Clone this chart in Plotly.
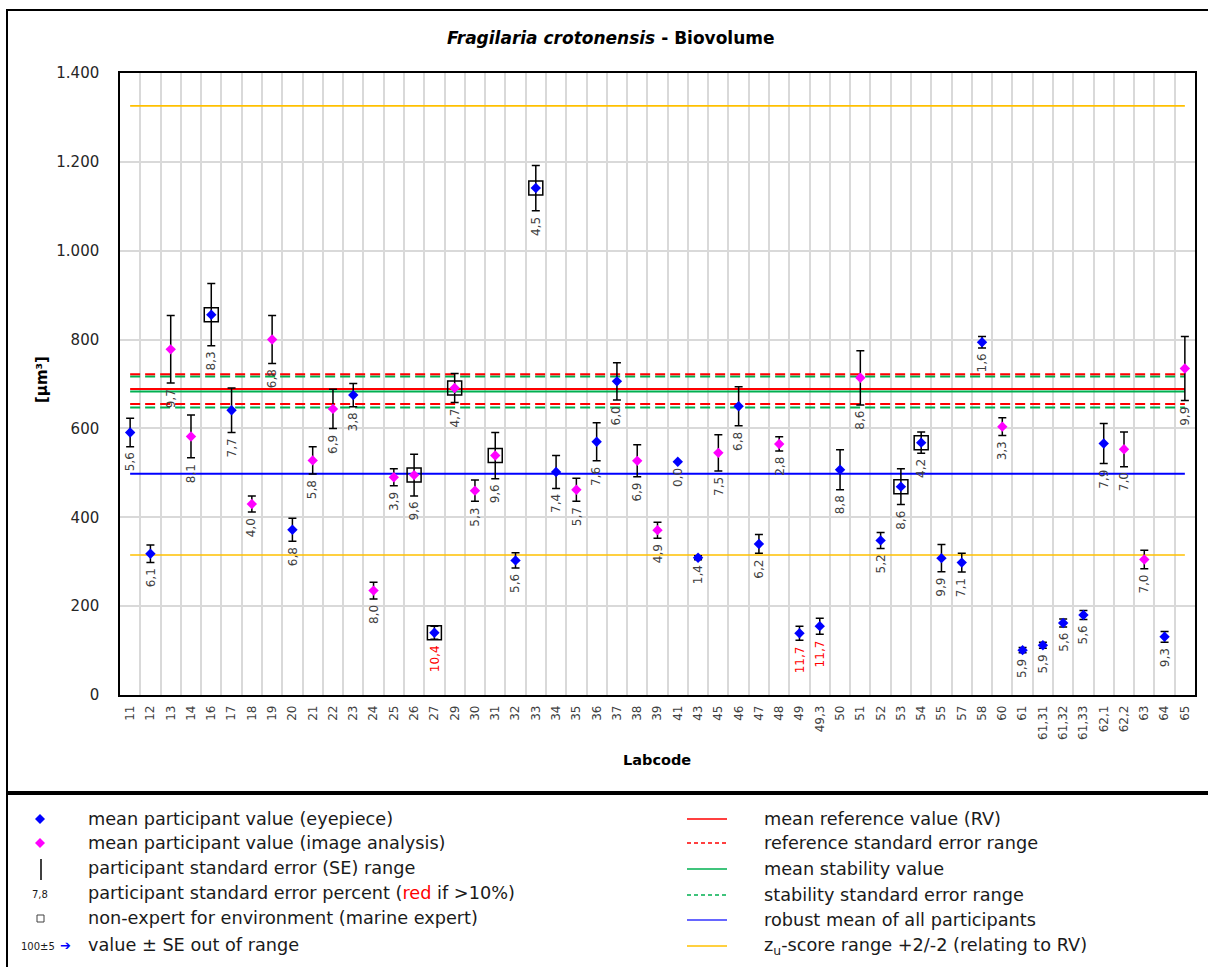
import plotly.graph_objects as go

# ---------------- data ----------------
labcodes = ["11", "12", "13", "14", "16", "17", "18", "19", "20", "21",
            "22", "23", "24", "25", "26", "27", "29", "30", "31", "32",
            "33", "34", "35", "36", "37", "38", "39", "41", "43", "45",
            "46", "47", "48", "49", "49,3", "50", "51", "52", "53", "54",
            "55", "57", "58", "60", "61", "61,31", "61,32", "61,33", "62,1", "62,2",
            "63", "64", "65"]
values = [591, 318, 778, 582, 856, 641, 430, 800, 372, 528,
          644, 675, 235, 490, 495, 140, 691, 460, 539, 303,
          1141, 502, 462, 570, 706, 527, 371, 525, 309, 545,
          650, 340, 565, 139, 155, 507, 714, 348, 469, 568,
          308, 298, 794, 604, 101, 112, 162, 180, 566, 553,
          305, 131, 735]
std_err = [32, 19.5, 76, 48, 70, 50, 18, 54, 26, 30.5,
           44, 26, 19, 19, 47, 14.6, 32.5, 24, 52, 17,
           51, 37, 26, 43, 42, 36, 18, 0, 4.3, 41,
           44, 21, 16, 16, 18, 45, 61, 18, 40, 24,
           30.5, 21, 12.7, 20, 6, 6.6, 9, 10, 45, 39,
           21, 12, 72]
se_percent = ["5,6", "6,1", "9,7", "8,1", "8,3", "7,7", "4,0", "6,8", "6,8", "5,8",
              "6,9", "3,8", "8,0", "3,9", "9,6", "10,4", "4,7", "5,3", "9,6", "5,6",
              "4,5", "7,4", "5,7", "7,6", "6,0", "6,9", "4,9", "0,0", "1,4", "7,5",
              "6,8", "6,2", "2,8", "11,7", "11,7", "8,8", "8,6", "5,2", "8,6", "4,2",
              "9,9", "7,1", "1,6", "3,3", "5,9", "5,9", "5,6", "5,6", "7,9", "7,0",
              "7,0", "9,3", "9,9"]
# E = eyepiece, I = image analysis
method = ["E", "E", "I", "I", "E", "E", "I", "I", "E", "I",
          "I", "E", "I", "I", "I", "E", "I", "I", "I", "E",
          "E", "E", "I", "E", "E", "I", "I", "E", "E", "I",
          "E", "E", "I", "E", "E", "E", "I", "E", "E", "E",
          "E", "E", "E", "I", "E", "E", "E", "E", "E", "I",
          "I", "E", "I"]
non_expert = ["16", "26", "27", "29", "31", "33", "53", "54"]

ref_value = 689
ref_se_range = [655, 722]
stab_value = 683
stab_se_range = [647, 717]
robust_mean = 498
zu_range = [315, 1326]

y_tickvals = [0, 200, 400, 600, 800, 1000, 1200, 1400]
y_ticktext = ["0", "200", "400", "600", "800", "1.000", "1.200", "1.400"]

# ---------------- layout geometry ----------------
FIG_W, FIG_H = 1208, 967
M_L, M_R, M_T, M_B = 120, 13, 73, 272
PW = FIG_W - M_L - M_R
PH = FIG_H - M_T - M_B
FONT = "DejaVu Sans"


def px(X):
    return (X - M_L) / PW


def py(Y):
    return (FIG_H - M_B - Y) / PH


RED, GREEN, BLUE, ORANGE = "#ff0000", "#00b050", "#0000ff", "#ffc000"
MAGENTA = "#ff00ff"

fig = go.Figure()


def hline(v, color, dash="solid", width=2):
    fig.add_trace(go.Scatter(x=[labcodes[0], labcodes[-1]], y=[v, v], mode="lines",
                             line=dict(color=color, width=width, dash=dash),
                             hoverinfo="skip", showlegend=False))


hline(zu_range[0], ORANGE, width=1.6)
hline(zu_range[1], ORANGE, width=1.6)
hline(robust_mean, BLUE)
hline(stab_se_range[0], GREEN, "10px,5px")
hline(stab_se_range[1], GREEN, "10px,5px")
hline(stab_value, GREEN)
hline(ref_se_range[0], RED, "10px,5px")
hline(ref_se_range[1], RED, "10px,5px")
hline(ref_value, RED)

for m, color in [("E", BLUE), ("I", MAGENTA)]:
    idx = [i for i, mm in enumerate(method) if mm == m]
    fig.add_trace(go.Scatter(
        x=[labcodes[i] for i in idx], y=[values[i] for i in idx], mode="markers",
        marker=dict(symbol="diamond", size=8, color=color),
        error_y=dict(type="data", array=[std_err[i] for i in idx], color="black",
                     thickness=1.5, width=4, visible=True),
        showlegend=False))

fig.add_trace(go.Scatter(
    x=non_expert, y=[values[labcodes.index(c)] for c in non_expert], mode="markers",
    marker=dict(symbol="square-open", size=14, color="black", line=dict(width=1.5)),
    showlegend=False))

# SE percent labels (x given as category index)
for i, (v, s, p) in enumerate(zip(values, std_err, se_percent)):
    col = RED if float(p.replace(",", ".")) > 10 else "#404040"
    fig.add_annotation(x=i, y=v - s, xref="x", yref="y", text=p, textangle=-90,
                       showarrow=False, xanchor="center", yanchor="top", yshift=-4,
                       font=dict(family=FONT, size=12, color=col))

# titles
fig.add_annotation(x=px(611), y=py(38), xref="paper", yref="paper",
                   text="<b><i>Fragilaria crotonensis</i> - Biovolume</b>", showarrow=False,
                   xanchor="center", yanchor="middle", font=dict(family=FONT, size=17, color="black"))
fig.add_annotation(x=px(657), y=py(760), xref="paper", yref="paper", text="<b>Labcode</b>",
                   showarrow=False, xanchor="center", yanchor="middle",
                   font=dict(family=FONT, size=14.5, color="black"))
fig.add_annotation(x=px(42), y=py(380), xref="paper", yref="paper", text="<b>[µm³]</b>",
                   textangle=-90, showarrow=False, xanchor="center", yanchor="middle",
                   font=dict(family=FONT, size=15, color="black"))

shapes = []
# outer boxes
shapes.append(dict(type="rect", xref="paper", yref="paper", x0=px(7), x1=px(1212), y0=py(10), y1=py(792),
                   line=dict(color="black", width=2), fillcolor="rgba(0,0,0,0)", layer="above"))
shapes.append(dict(type="rect", xref="paper", yref="paper", x0=px(7), x1=px(1212), y0=py(794), y1=py(975),
                   line=dict(color="black", width=2), fillcolor="rgba(0,0,0,0)", layer="above"))

# legend - left column
rows_l = [819, 843, 868, 893, 918, 945]
rows_r = [819, 843, 869, 895, 920, 946]
left_texts = ["mean participant value (eyepiece)",
              "mean participant value (image analysis)",
              "participant standard error (SE) range",
              "participant standard error percent (<span style='color:#ff0000'>red</span> if >10%)",
              "non-expert for environment (marine expert)",
              "value ± SE out of range"]
right_texts = ["mean reference value (RV)",
               "reference standard error range",
               "mean stability value",
               "stability standard error range",
               "robust mean of all participants",
               "z<sub>u</sub>-score range +2/-2 (relating to RV)"]
for yy, t in zip(rows_l, left_texts):
    fig.add_annotation(x=px(86), y=py(yy), xref="paper", yref="paper", text=t, showarrow=False,
                       xanchor="left", yanchor="middle", font=dict(family=FONT, size=17.7, color="#1a1a1a"))
for yy, t in zip(rows_r, right_texts):
    fig.add_annotation(x=px(762), y=py(yy), xref="paper", yref="paper", text=t, showarrow=False,
                       xanchor="left", yanchor="middle", font=dict(family=FONT, size=17.7, color="#1a1a1a"))


def diamond(cx, cy, hw, hh, color):
    path = "M {},{} L {},{} L {},{} L {},{} Z".format(
        px(cx - hw), py(cy), px(cx), py(cy - hh), px(cx + hw), py(cy), px(cx), py(cy + hh))
    return dict(type="path", xref="paper", yref="paper", path=path, fillcolor=color,
                line=dict(color=color, width=0))


shapes.append(diamond(40, rows_l[0], 5, 5, BLUE))
shapes.append(diamond(40, rows_l[1], 5, 5, MAGENTA))
shapes.append(dict(type="line", xref="paper", yref="paper", x0=px(41), x1=px(41),
                   y0=py(859), y1=py(880), line=dict(color="black", width=1.5)))
fig.add_annotation(x=px(40), y=py(rows_l[3] + 1), xref="paper", yref="paper", text="7,8", showarrow=False,
                   xanchor="center", yanchor="middle", font=dict(family=FONT, size=10, color="#1a1a1a"))
shapes.append(dict(type="rect", xref="paper", yref="paper", x0=px(37), x1=px(44),
                   y0=py(rows_l[4] - 3), y1=py(rows_l[4] + 4), line=dict(color="#404040", width=1)))
fig.add_annotation(x=px(57), y=py(rows_l[5] + 1), xref="paper", yref="paper", text="100±5", showarrow=False,
                   xanchor="right", yanchor="middle", font=dict(family=FONT, size=10, color="#1a1a1a"))
fig.add_annotation(x=px(58), y=py(rows_l[5]), xref="paper", yref="paper", text="<b>➔</b>", showarrow=False,
                   xanchor="left", yanchor="middle", font=dict(family=FONT, size=13, color=BLUE))

# legend - right column lines
leg_lines = [(RED, "solid"), (RED, "4px,3px"), (GREEN, "solid"), (GREEN, "4px,3px"),
             ("#3333ff", "solid"), (ORANGE, "solid")]
for yy, (c, d) in zip(rows_r, leg_lines):
    shapes.append(dict(type="line", xref="paper", yref="paper", x0=px(687), x1=px(727),
                       y0=py(yy), y1=py(yy), line=dict(color=c, width=1.5, dash=d)))

fig.update_layout(
    width=FIG_W, height=FIG_H,
    margin=dict(l=M_L, r=M_R, t=M_T, b=M_B),
    paper_bgcolor="white", plot_bgcolor="white",
    showlegend=False,
    shapes=shapes,
    xaxis=dict(type="category", categoryorder="array", categoryarray=labcodes,
               range=[-0.5, len(labcodes) - 0.5], tickson="boundaries",
               showgrid=True, gridcolor="#d9d9d9", gridwidth=1.5,
               tickangle=-90, tickfont=dict(family=FONT, size=12, color="#404040"),
               ticklabelstandoff=4,
               showline=True, linecolor="black", linewidth=1.5, mirror=True, ticks=""),
    yaxis=dict(range=[0, 1400], tickvals=y_tickvals, ticktext=y_ticktext,
               showgrid=True, gridcolor="#d9d9d9", gridwidth=1.5, zeroline=False,
               tickfont=dict(family=FONT, size=15, color="#262626"),
               ticklabelstandoff=16,
               showline=True, linecolor="black", linewidth=1.5, mirror=True, ticks=""),
)

fig.write_html("out.html", config={"displayModeBar": False},
               post_script="document.body.style.margin='0';")
